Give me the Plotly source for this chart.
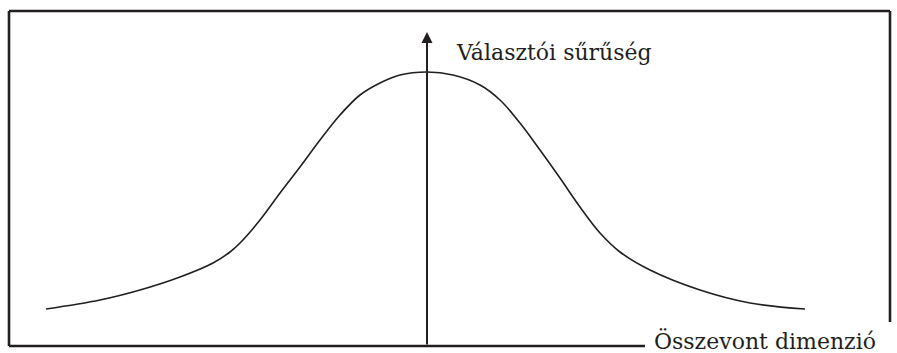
import plotly.graph_objects as go

# Density curve (x = position along the merged dimension,
# y = voter density, both in the picture's own units).
curve_x = [46, 100, 140, 180, 213, 230, 240, 260, 280, 300, 320, 340, 360, 380,
           400, 427, 453, 480, 500, 520, 540, 560, 580, 600, 620, 650, 700, 750, 805]
curve_y = [37, 46, 56, 69, 83, 94, 103, 126, 153, 179, 206, 231, 251, 263,
           271, 274, 271, 261, 246, 223, 196, 168, 139, 113, 94, 76, 56, 43, 37]

y_label = "Választói sűrűség"
x_label = "Összevont dimenzió"

FONT = "DejaVu Serif"
INK = "#231f20"

fig = go.Figure()
fig.add_trace(go.Scatter(x=curve_x, y=curve_y, mode="lines", line_shape="spline",
                         line=dict(color=INK, width=1.6), hoverinfo="skip",
                         showlegend=False))

# frame: left, top, right (stops short), bottom (stops before the label)
frame = dict(color=INK, width=2.6)
fig.add_shape(type="line", x0=9, x1=9, y0=0, y1=335, line=frame)
fig.add_shape(type="line", x0=9, x1=890, y0=335, y1=335, line=frame)
fig.add_shape(type="line", x0=890, x1=890, y0=335, y1=24, line=frame)
fig.add_shape(type="line", x0=9, x1=645, y0=0, y1=0, line=frame)

# vertical density axis with arrow
fig.add_annotation(x=427, y=314, ax=427, ay=0, xref="x", yref="y",
                   axref="x", ayref="y", text="", showarrow=True,
                   arrowhead=2, arrowsize=1.1, arrowwidth=2, arrowcolor=INK)

fig.add_annotation(x=454, y=294, xref="x", yref="y", text=y_label,
                   showarrow=False, xanchor="left", yanchor="middle",
                   font=dict(family=FONT, size=22, color=INK))
fig.add_annotation(x=652, y=5, xref="x", yref="y", text=x_label,
                   showarrow=False, xanchor="left", yanchor="middle",
                   font=dict(family=FONT, size=22, color=INK))

fig.update_xaxes(range=[0, 897], visible=False)
fig.update_yaxes(range=[-7, 346], visible=False)
fig.update_layout(width=897, height=353, margin=dict(l=0, r=0, t=0, b=0),
                  plot_bgcolor="white", paper_bgcolor="white")

# drop the browser's default body margin so the figure sits at the corner
fig.write_html("out.html", config={"displayModeBar": False},
               post_script="document.body.style.margin='0';")
